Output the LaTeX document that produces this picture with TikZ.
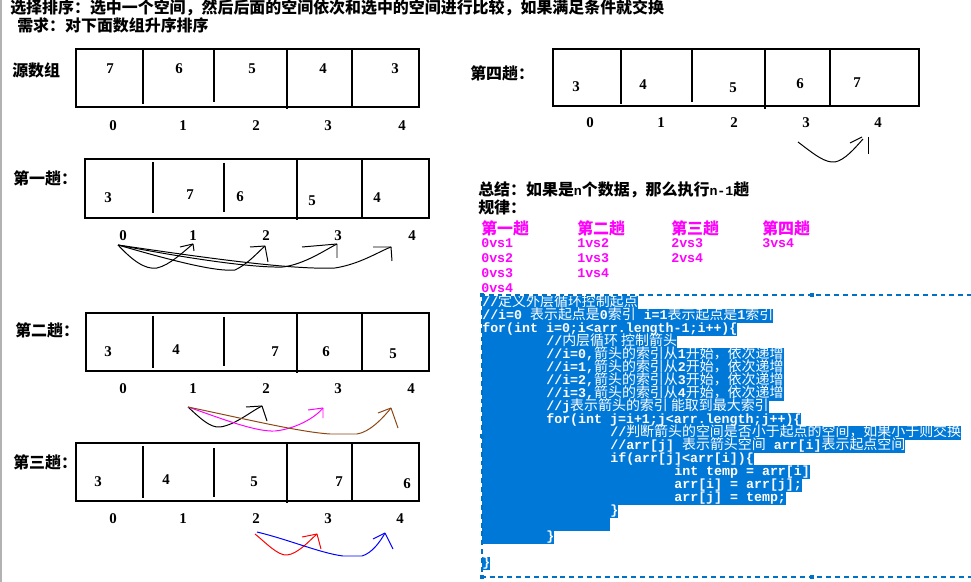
\documentclass[tikz,border=0pt]{standalone}
\usepackage{fontspec}
\setmainfont{Liberation Mono}
\newfontfamily\zhfont{Noto Sans CJK SC}[Scale=1.2]
\newfontfamily\zhcodefont{Noto Sans CJK SC}[Scale=1.05]
\newfontfamily\numfont{Liberation Serif}
\newcommand\zh[1]{{\zhfont #1}}
\newcommand\zc[1]{{\zhcodefont\mdseries #1}}
\usepackage{tikz}
\usetikzlibrary{positioning}
\definecolor{selblue}{RGB}{0,120,215}
\definecolor{frameblue}{RGB}{0,114,198}
\definecolor{rulepink}{RGB}{255,0,255}
\definecolor{trackbrown}{RGB}{140,70,20}
\newlength\tabw
\setlength\tabw{1.6cm}

\begin{document}
\begin{tikzpicture}[x=0.025cm, y=-0.025cm,
    every node/.style={font=\fontsize{9.45}{11}\selectfont\bfseries, inner sep=0pt},
    txt/.style={anchor=west},
    num/.style={font=\numfont\fontsize{10.6}{12}\selectfont\bfseries},
    rule/.style={anchor=west, text=rulepink},
    codeline/.style={anchor=west, fill=selblue, text=white, text height=0.25cm, text depth=0.075cm},
    cell/.style={line width=1.1pt},
    pen/.style={line width=0.7pt}
]
\useasboundingbox (0,0) rectangle (971,582);
\fill[white] (0,0) rectangle (971,582);
\draw[gray!60, line width=1.2pt] (1,0) -- (1,582);

% heading
\node[txt] (title) at (10,8) {\zh{选择排序：选中一个空间，然后后面的空间依次和选中的空间进行比较，如果满足条件就交换}};
\node[txt] (need) at (17,25) {\zh{需求：对下面数组升序排序}};

% source array
\node[txt] (srclabel) at (12,70) {\zh{源数组}};
\draw[cell] (76,49) rectangle (419,107);
\draw[cell] (143,49) -- (143,104) (214,49) -- (214,102) (287,49) -- (287,109) (352,49) -- (352,107);
\foreach \v/\x/\y [count=\i] in {7/110/69, 6/179/69, 5/252/69, 4/323/69, 3/395/69}
  \node[num] (src\i) at (\x,\y) {\v};
\foreach \x [count=\i from 0] in {113,183,256,328,402}
  \node[num] (srcidx\i) at (\x,126) {\i};

% pass 1
\node[txt] (p1label) at (13,178) {\zh{第一趟：}};
\draw[cell] (85,159) rectangle (429,218);
\draw[cell] (153,162) -- (153,213) (224,163) -- (224,212) (297,159) -- (297,220) (362,159) -- (362,218);
\foreach \v/\x/\y [count=\i] in {3/108/198, 7/190/195, 6/240/197, 5/312/201, 4/377/198}
  \node[num] (p1v\i) at (\x,\y) {\v};
\foreach \x [count=\i from 0] in {123,193,266,338,412}
  \node[num] (p1idx\i) at (\x,236) {\i};

% pass 2
\node[txt] (p2label) at (15,330) {\zh{第二趟：}};
\draw[cell] (86,313) rectangle (429,371);
\draw[cell] (153,316) -- (153,368) (224,317) -- (224,366) (297,313) -- (297,373) (362,313) -- (362,371);
\foreach \v/\x/\y [count=\i] in {3/108/352, 4/176/350, 7/275/352, 6/326/352, 5/393/354}
  \node[num] (p2v\i) at (\x,\y) {\v};
\foreach \x [count=\i from 0] in {123,193,266,338,411}
  \node[num] (p2idx\i) at (\x,389) {\i};

% pass 3
\node[txt] (p3label) at (13,462) {\zh{第三趟：}};
\draw[cell] (76,443) rectangle (419,501);
\draw[cell] (143,446) -- (143,498) (214,448) -- (214,497) (287,443) -- (287,503) (352,443) -- (352,501);
\foreach \v/\x/\y [count=\i] in {3/98/482, 4/166/480, 5/254/482, 7/339/482, 6/407/484}
  \node[num] (p3v\i) at (\x,\y) {\v};
\foreach \x [count=\i from 0] in {113,183,256,328,400}
  \node[num] (p3idx\i) at (\x,519) {\i};

% pass 4
\node[txt] (p4label) at (470,73) {\zh{第四趟：}};
\draw[cell] (553,49) rectangle (919,106);
\draw[cell] (621,49) -- (621,104) (692,49) -- (692,102) (765,49) -- (765,109) (830,49) -- (830,106);
\foreach \v/\x/\y [count=\i] in {3/576/87, 4/643/85, 5/733/88, 6/800/84, 7/857/83}
  \node[num] (p4v\i) at (\x,\y) {\v};
\foreach \x [count=\i from 0] in {590,661,734,806,878}
  \node[num] (p4idx\i) at (\x,123) {\i};

% hand drawn arrows, pass 1
\coordinate (p1o) at (118,245);
\coordinate (p1t1) at (193,244);
\coordinate (p1t2) at (265,246);
\coordinate (p1t3) at (337,244);
\coordinate (p1t4) at (391,247);
\draw[pen] (p1o) .. controls (132,260) and (145,270) .. (157,268) .. controls (170,265) and (183,252) .. (p1t1);
\draw[pen] (p1o) .. controls (170,260) and (215,272) .. (235,270) .. controls (248,264) and (258,252) .. (p1t2);
\draw[pen] (p1o) .. controls (180,257) and (250,268) .. (283,267) .. controls (305,264) and (325,250) .. (p1t3);
\draw[pen] (p1o) .. controls (200,257) and (290,270) .. (335,268) .. controls (360,264) and (378,252) .. (p1t4);
\draw[pen] (p1t1) -- (180,247) (p1t1) -- (194,251);
\draw[pen] (p1t2) -- (250,247) (p1t2) -- (268,262);
\draw[pen] (p1t3) -- (302,247) (p1t3) -- (337,258);
\draw[pen] (p1t4) -- (373,247) (p1t4) -- (392,261);

% pass 2
\coordinate (p2o) at (188,407);
\coordinate (p2t1) at (262,406);
\coordinate (p2t2) at (323,408);
\coordinate (p2t3) at (391,408);
\draw[pen] (p2o) .. controls (200,418) and (210,428) .. (220,427) .. controls (235,425) and (250,412) .. (p2t1);
\draw[pen] (p2t1) -- (246,407) (p2t1) -- (267,421);
\draw[pen, rulepink] (p2o) .. controls (220,418) and (255,432) .. (275,431) .. controls (295,429) and (315,418) .. (p2t2);
\draw[pen, rulepink] (p2t2) -- (308,410) (p2t2) -- (323,418);
\draw[pen, trackbrown] (p2o) .. controls (250,420) and (300,432) .. (330,434) -- (357,434) .. controls (370,432) and (383,418) .. (p2t3);
\draw[pen, trackbrown] (p2t3) -- (378,413) (p2t3) -- (398,428);

% pass 3
\coordinate (p3o1) at (255,534);
\coordinate (p3o2) at (257,532);
\coordinate (p3t1) at (317,534);
\coordinate (p3t2) at (385,533);
\draw[pen, red] (p3o1) .. controls (265,542) and (278,556) .. (287,555) .. controls (298,554) and (310,540) .. (p3t1);
\draw[pen, red] (p3t1) -- (302,537) (p3t1) -- (321,549);
\draw[pen, blue] (p3o2) .. controls (290,540) and (320,553) .. (343,556) -- (362,556) .. controls (372,553) and (380,542) .. (p3t2);
\draw[pen, blue] (p3t2) -- (373,539) (p3t2) -- (393,549);

% pass 4
\coordinate (p4o) at (798,142);
\coordinate (p4t) at (863,139);
\draw[pen] (p4o) .. controls (815,155) and (825,163) .. (835,162) .. controls (845,160) and (855,148) .. (p4t);
\coordinate (p4h1) at (850,143);
\coordinate (p4h2) at (868,137);
\draw[pen] (p4h1) -- (862,137);
\draw[pen] (p4h2) -- (868,154);

% summary
\node[txt] (sum) at (478,190) {\zh{总结：如果是}n\zh{个数据，那么执行}n-1\zh{趟}};
\node[txt] (law) at (478,207) {\zh{规律：}};
\node[rule] (r1head) at (481,228) {\zh{第一趟}};
\node[rule] (r2head) at (577,228) {\zh{第二趟}};
\node[rule] (r3head) at (671,228) {\zh{第三趟}};
\node[rule] (r4head) at (762,228) {\zh{第四趟}};
\foreach \t [count=\k] in {0vs1,0vs2,0vs3,0vs4}
  \node[rule] (r1row\k) at (481,{228+15*\k}) {\t};
\foreach \t [count=\k] in {1vs2,1vs3,1vs4}
  \node[rule] (r2row\k) at (577,{228+15*\k}) {\t};
\foreach \t [count=\k] in {2vs3,2vs4}
  \node[rule] (r3row\k) at (671,{228+15*\k}) {\t};
\node[rule] (r4row1) at (762,243) {3vs4};

% selected code
\node[codeline] (code1) at (482,303) {//\zc{定义外层循环控制起点}};
\node[codeline] (code2) at (482,316) {//i=0 \zc{表示起点是}0\zc{索引} i=1\zc{表示起点是}1\zc{索引}};
\node[codeline] (code3) at (482,329) {for(int i=0;i<arr.length-1;i++)\{};
\node[codeline] (code4) at (482,342) {\hspace*{\tabw}//\zc{内层循环 控制箭头}};
\node[codeline] (code5) at (482,355) {\hspace*{\tabw}//i=0,\zc{箭头的索引从}1\zc{开始，依次递增}};
\node[codeline] (code6) at (482,368) {\hspace*{\tabw}//i=1,\zc{箭头的索引从}2\zc{开始，依次递增}};
\node[codeline] (code7) at (482,381) {\hspace*{\tabw}//i=2,\zc{箭头的索引从}3\zc{开始，依次递增}};
\node[codeline] (code8) at (482,394) {\hspace*{\tabw}//i=3,\zc{箭头的索引从}4\zc{开始，依次递增}};
\node[codeline] (code9) at (482,407) {\hspace*{\tabw}//j\zc{表示箭头的索引 能取到最大索引}};
\node[codeline] (code10) at (482,420) {\hspace*{\tabw}for(int j=i+1;j<arr.length;j++)\{};
\node[codeline] (code11) at (482,433) {\hspace*{2\tabw}//\zc{判断箭头的空间是否小于起点的空间，如果小于则交换}};
\node[codeline] (code12) at (482,446) {\hspace*{2\tabw}//arr[j] \zc{表示箭头空间} arr[i]\zc{表示起点空间}};
\node[codeline] (code13) at (482,459) {\hspace*{2\tabw}if(arr[j]<arr[i])\{};
\node[codeline] (code14) at (482,472) {\hspace*{3\tabw}int temp = arr[i]};
\node[codeline] (code15) at (482,485) {\hspace*{3\tabw}arr[i] = arr[j];};
\node[codeline] (code16) at (482,498) {\hspace*{3\tabw}arr[j] = temp;};
\node[codeline] (code17) at (482,511) {\hspace*{2\tabw}\}};
\node[codeline] (code18) at (482,524) {\hspace*{2\tabw}};
\node[codeline] (code19) at (482,537) {\hspace*{\tabw}\}};
\node[codeline] (code21) at (482,563) {\}};

% selection frame
\coordinate (frameNW) at (482,295);
\coordinate (frameNE) at (972,295);
\coordinate (frameSW) at (482,577);
\coordinate (frameSE) at (972,577);
\draw[frameblue, line width=0.8pt, dash pattern=on 3.5pt off 2.8pt] (frameNE) -- (frameNW) -- (frameSW) -- (frameSE);
\foreach \hx/\hy in {482/295, 812/295, 482/436, 482/577, 812/577}
  \fill[frameblue] (\hx-2,\hy-2) rectangle (\hx+2,\hy+2);
\end{tikzpicture}
\end{document}
